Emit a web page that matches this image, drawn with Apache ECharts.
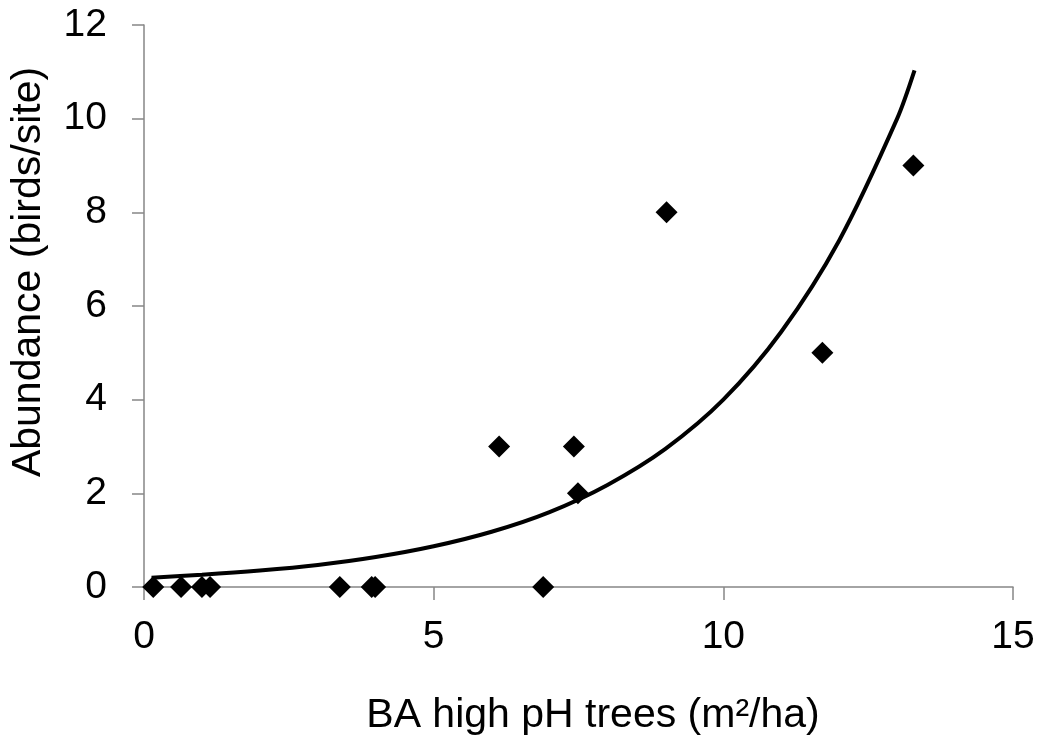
<!DOCTYPE html>
<html>
<head>
<meta charset="utf-8">
<style>
  html, body { margin: 0; padding: 0; background: #ffffff; }
  #chart { width: 1040px; height: 745px; }
</style>
<script src="https://cdn.jsdelivr.net/npm/echarts@6/dist/echarts.min.js"></script>
</head>
<body>
<div id="chart"></div>
<script>
// Observed sites: basal area of high-pH trees vs. bird abundance
const siteBA        = [0.16, 0.64, 1.0, 1.14, 3.38, 3.93, 3.99, 6.89, 6.13, 7.42, 7.49, 9.02, 11.71, 13.28];
const siteAbundance = [0, 0, 0, 0, 0, 0, 0, 0, 3, 3, 2, 8, 5, 9];

// Exponential trend line, sampled along its length
const trendBA        = [0.13, 1, 2, 3, 4, 5, 6, 7, 8, 9, 10, 11, 12, 13, 13.3];
const trendAbundance = [0.2, 0.26, 0.35, 0.47, 0.64, 0.87, 1.18, 1.6, 2.18, 2.95, 4.0, 5.45, 7.4, 10.0, 11.03];

// Axis ranges and titles
const xRange = { min: 0, max: 15, step: 5 };
const yRange = { min: 0, max: 12, step: 2 };
const xTitle = 'BA high pH trees (m²/ha)';
const yTitle = 'Abundance (birds/site)';

const FONT = '"Liberation Sans", Arial, sans-serif';
const axisGrey = '#868686';

const chart = echarts.init(document.getElementById('chart'), null, { renderer: 'canvas' });

const points = siteBA.map((x, i) => [x, siteAbundance[i]]);
const trend = trendBA.map((x, i) => [x, trendAbundance[i]]);

chart.setOption({
  animation: false,
  backgroundColor: '#ffffff',
  grid: { left: 144, right: 27, top: 25, bottom: 158, containLabel: false },
  xAxis: {
    type: 'value',
    min: xRange.min, max: xRange.max, interval: xRange.step,
    axisLine: { show: true, lineStyle: { color: axisGrey, width: 1.5 } },
    axisTick: { show: true, inside: false, length: 13, lineStyle: { color: axisGrey, width: 1.5 } },
    axisLabel: { color: '#000', fontFamily: FONT, fontSize: 39, margin: 31 },
    splitLine: { show: false }
  },
  yAxis: {
    type: 'value',
    min: yRange.min, max: yRange.max, interval: yRange.step,
    axisLine: { show: true, lineStyle: { color: axisGrey, width: 1.5 } },
    axisTick: { show: true, inside: false, length: 12, lineStyle: { color: axisGrey, width: 1.5 } },
    axisLabel: { color: '#000', fontFamily: FONT, fontSize: 39, margin: 37 },
    splitLine: { show: false }
  },
  graphic: [
    {
      type: 'text', x: 593, y: 716,
      style: { text: xTitle, fill: '#000', font: '41px ' + FONT, align: 'center', verticalAlign: 'middle' }
    },
    {
      type: 'text', x: 29, y: 272, rotation: Math.PI / 2,
      style: { text: yTitle, fill: '#000', font: '41px ' + FONT, align: 'center', verticalAlign: 'middle' }
    }
  ],
  series: [
    {
      type: 'line',
      data: trend,
      smooth: 0.3,
      showSymbol: false,
      symbol: 'none',
      lineStyle: { color: '#000', width: 4 },
      z: 2
    },
    {
      type: 'scatter',
      data: points,
      symbol: 'diamond',
      symbolSize: 22,
      clip: false,
      itemStyle: { color: '#000', opacity: 1 },
      z: 3
    }
  ]
});
</script>
</body>
</html>
